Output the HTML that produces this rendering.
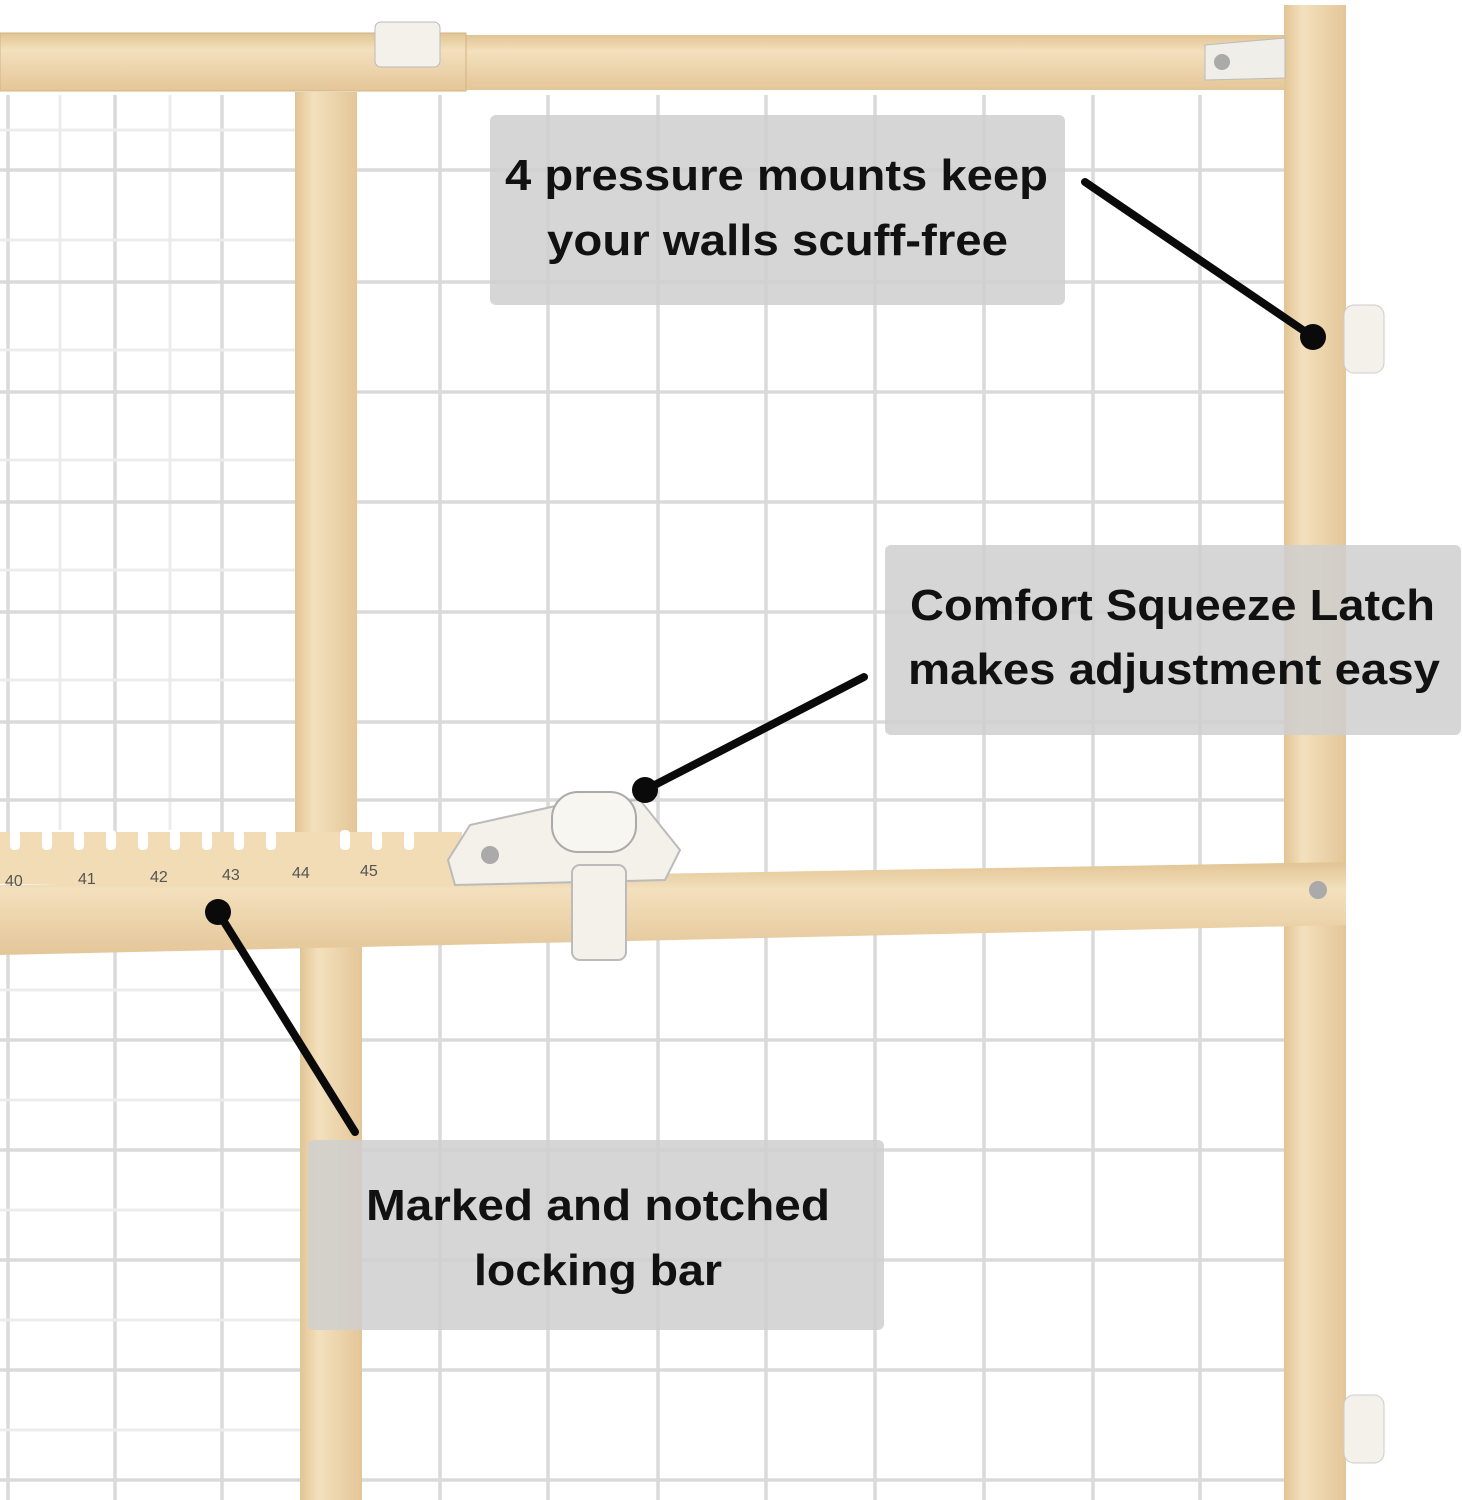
<!DOCTYPE html>
<html><head><meta charset="utf-8"><style>
html,body{margin:0;padding:0;background:#fff;}
svg{display:block;}
text{font-family:"Liberation Sans","DejaVu Sans",sans-serif;font-weight:bold;fill:#111;}
</style></head><body>
<svg width="1463" height="1500" viewBox="0 0 1463 1500" xmlns="http://www.w3.org/2000/svg">
<defs>
<linearGradient id="wv" x1="0" x2="1" y1="0" y2="0"><stop offset="0" stop-color="#e2c494"/><stop offset="0.3" stop-color="#f3e0bd"/><stop offset="1" stop-color="#e4c698"/></linearGradient>
<linearGradient id="wh" x1="0" x2="0" y1="0" y2="1"><stop offset="0" stop-color="#e2c494"/><stop offset="0.3" stop-color="#f3e0bd"/><stop offset="1" stop-color="#e4c698"/></linearGradient>
</defs>
<rect width="1463" height="1500" fill="#fff"/>
<g stroke="#dadada" stroke-width="3.5" fill="none">
<path d="M8 95V1500M115 95V1500M222 95V1500M440 95V1500M548 95V1500M658 95V1500M766 95V1500M875 95V1500M984 95V1500M1093 95V1500M1200 95V1500"/>
<path d="M60 95V830M170 95V830" stroke="#ececec" stroke-width="3"/>
<path d="M0 170H1290M0 282H1290M0 392H1290M0 502H1290M0 612H1290M0 722H1290M0 800H1290M0 1040H1290M0 1150H1290M0 1260H1290M0 1370H1290M0 1480H1290"/>
<path d="M0 130H300M0 240H300M0 350H300M0 460H300M0 570H300M0 680H300M0 990H300M0 1100H300M0 1210H300M0 1320H300M0 1430H300" stroke="#ececec" stroke-width="3"/>
</g>
<rect x="0" y="35" width="1290" height="55" fill="url(#wh)"/>
<rect x="0" y="33" width="466" height="58" fill="url(#wh)" stroke="#d2b383" stroke-width="1"/>
<rect x="295" y="92" width="62" height="745" fill="url(#wv)"/>
<rect x="300" y="945" width="62" height="555" fill="url(#wv)"/>
<rect x="1284" y="5" width="62" height="1495" fill="url(#wv)"/>
<polygon points="0,885 1346,862 1346,925 0,955" fill="url(#wh)"/>
<rect x="0" y="832" width="462" height="52" fill="#f1dcb5"/>
<g fill="#fff">
<rect x="10" y="830" width="10" height="20" rx="4"/><rect x="42" y="830" width="10" height="20" rx="4"/><rect x="74" y="830" width="10" height="20" rx="4"/><rect x="106" y="830" width="10" height="20" rx="4"/><rect x="138" y="830" width="10" height="20" rx="4"/><rect x="170" y="830" width="10" height="20" rx="4"/><rect x="202" y="830" width="10" height="20" rx="4"/><rect x="234" y="830" width="10" height="20" rx="4"/><rect x="266" y="830" width="10" height="20" rx="4"/><rect x="340" y="830" width="10" height="20" rx="4"/><rect x="372" y="830" width="10" height="20" rx="4"/><rect x="404" y="830" width="10" height="20" rx="4"/>
</g>
<g font-size="16">
<text x="5" y="886" style="font-weight:normal;fill:#555">40</text><text x="78" y="884" style="font-weight:normal;fill:#555">41</text><text x="150" y="882" style="font-weight:normal;fill:#555">42</text><text x="222" y="880" style="font-weight:normal;fill:#555">43</text><text x="292" y="878" style="font-weight:normal;fill:#555">44</text><text x="360" y="876" style="font-weight:normal;fill:#555">45</text>
</g>
<path d="M448 860 L470 825 L560 805 L640 800 L680 850 L665 880 L455 885 Z" fill="#f3f1ea" stroke="#bbb" stroke-width="2"/>
<rect x="552" y="792" width="84" height="60" rx="26" fill="#f7f6f1" stroke="#aaa" stroke-width="2"/>
<rect x="572" y="865" width="54" height="95" rx="8" fill="#f3f1ea" stroke="#bbb" stroke-width="2"/>
<circle cx="490" cy="855" r="9" fill="#aaa"/>
<circle cx="1318" cy="890" r="9" fill="#aaa"/>
<rect x="375" y="22" width="65" height="45" rx="6" fill="#f3f1ea" stroke="#bbb"/>
<path d="M1205 45 L1285 38 L1285 78 L1205 80 Z" fill="#f0eee8" stroke="#bbb"/>
<circle cx="1222" cy="62" r="8" fill="#aaa"/>
<rect x="1344" y="305" width="40" height="68" rx="10" fill="#f3f1ea" stroke="#ccc"/>
<rect x="1344" y="1395" width="40" height="68" rx="10" fill="#f3f1ea" stroke="#ccc"/>
<rect x="490" y="115" width="575" height="190" rx="6" fill="#cfcfcf" fill-opacity="0.85"/>
<text x="505" y="190" font-size="44" textLength="543" lengthAdjust="spacingAndGlyphs">4 pressure mounts keep</text>
<text x="547" y="255" font-size="44" textLength="461" lengthAdjust="spacingAndGlyphs">your walls scuff-free</text>
<rect x="885" y="545" width="576" height="190" rx="6" fill="#cfcfcf" fill-opacity="0.85"/>
<text x="910" y="620" font-size="44" textLength="525" lengthAdjust="spacingAndGlyphs">Comfort Squeeze Latch</text>
<text x="908" y="684" font-size="44" textLength="532" lengthAdjust="spacingAndGlyphs">makes adjustment easy</text>
<rect x="308" y="1140" width="576" height="190" rx="6" fill="#cfcfcf" fill-opacity="0.85"/>
<text x="366" y="1220" font-size="44" textLength="464" lengthAdjust="spacingAndGlyphs">Marked and notched</text>
<text x="474" y="1285" font-size="44" textLength="248" lengthAdjust="spacingAndGlyphs">locking bar</text>
<g stroke="#0a0a0a" stroke-width="8" stroke-linecap="round">
<line x1="1085" y1="182" x2="1313" y2="337"/>
<line x1="864" y1="677" x2="645" y2="790"/>
<line x1="218" y1="912" x2="355" y2="1132"/>
</g>
<g fill="#0a0a0a">
<circle cx="1313" cy="337" r="13"/>
<circle cx="645" cy="790" r="13"/>
<circle cx="218" cy="912" r="13"/>
</g>
</svg>
</body></html>
